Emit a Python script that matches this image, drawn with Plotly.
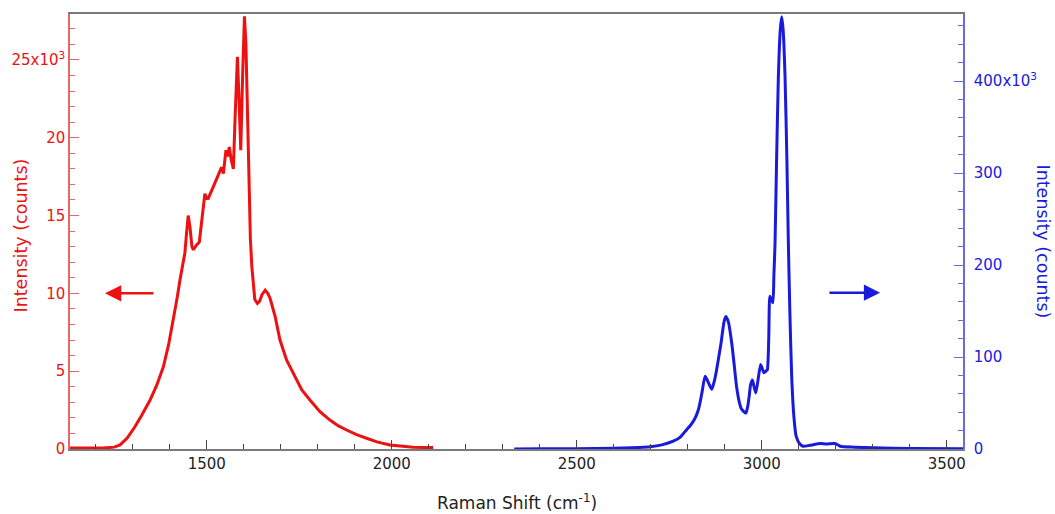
import plotly.graph_objects as go

# Red spectrum (left axis), Raman shift in cm-1 and intensity in counts
red_x = [1130, 1160, 1190, 1220, 1250, 1266, 1285, 1306, 1325, 1347, 1365, 1383, 1397, 1410,
         1420, 1428, 1441, 1446, 1450, 1455, 1460, 1464, 1472, 1480, 1487, 1495, 1500, 1504,
         1515, 1527, 1540, 1545, 1552, 1557, 1561, 1566, 1572, 1577, 1583, 1588, 1592, 1597,
         1602, 1606, 1610, 1614, 1618, 1622, 1630, 1637, 1643, 1649, 1658, 1665, 1671, 1685,
         1698, 1716, 1739, 1757, 1779, 1806, 1833, 1855, 1878, 1905, 1932, 1960, 1995, 2025,
         2058, 2085, 2112]
red_y = [60, 50, 70, 60, 120, 260, 700, 1430, 2200, 3150, 4100, 5300, 6700, 8300,
         9700, 10900, 12600, 14000, 15000, 14200, 13000, 12800, 13100, 13300, 14800, 16400, 16100, 16100,
         16700, 17400, 18100, 17700, 19200, 18800, 19400, 18600, 18000, 21500, 25200, 22000, 19200, 24000,
         27800, 26000, 21800, 15800, 13500, 11700, 9600, 9350, 9500, 9900, 10200, 10000, 9700, 8500,
         7000, 5700, 4650, 3800, 3150, 2400, 1860, 1500, 1220, 920, 690, 460, 260, 170,
         110, 100, 90]

# Blue spectrum (right axis)
blue_x = [2331, 2400, 2500, 2600, 2650, 2699, 2730, 2761, 2780, 2797, 2806, 2818, 2829, 2838,
          2847, 2856, 2865, 2872, 2878, 2890, 2898, 2903, 2910, 2919, 2926, 2932, 2940, 2946,
          2957, 2962, 2966, 2970, 2975, 2979, 2984, 2990, 2997, 3001, 3006, 3012, 3015, 3019,
          3022, 3026, 3030, 3033, 3036, 3040, 3045, 3050, 3054, 3058, 3063, 3068, 3072, 3076,
          3081, 3087, 3093, 3102, 3112, 3130, 3158, 3175, 3198, 3212, 3250, 3302, 3402, 3544]
blue_y = [0, 200, 400, 800, 1300, 2400, 4500, 8500, 13000, 21000, 25000, 32000, 43000, 60000,
          79000, 72000, 65000, 74000, 86000, 115000, 138000, 144000, 138000, 115000, 90000, 68000, 50000, 43000,
          39000, 46000, 57000, 70000, 75000, 68000, 61000, 75000, 92000, 88000, 83000, 85000, 86000, 120000,
          166000, 162000, 159000, 190000, 224000, 310000, 405000, 455000, 470000, 455000, 405000, 315000, 224000, 150000,
          79000, 35000, 14000, 6000, 3000, 4000, 6000, 5500, 6000, 3000, 2000, 1300, 500, 300]

x_ticks = [1500, 2000, 2500, 3000, 3500]
left_ticks = [0, 5000, 10000, 15000, 20000, 25000]
left_text = ["0", "5", "10", "15", "20", "25x10<sup>3</sup>"]
right_ticks = [0, 100000, 200000, 300000, 400000]
right_text = ["0", "100", "200", "300", "400x10<sup>3</sup>"]

RED = "#ee1111"
BLUE = "#1a1add"
FONT = "DejaVu Sans"

fig = go.Figure()
fig.add_trace(go.Scatter(x=red_x, y=red_y, mode="lines", line=dict(color=RED, width=3),
                         yaxis="y", showlegend=False))
fig.add_trace(go.Scatter(x=blue_x, y=blue_y, mode="lines", line=dict(color=BLUE, width=3, shape="spline", smoothing=0.6),
                         yaxis="y2", showlegend=False))

fig.update_layout(
    width=1055, height=514,
    margin=dict(l=70, r=92, t=14, b=65),
    plot_bgcolor="white", paper_bgcolor="white",
    font=dict(family=FONT, size=15, color="#222222"),
    xaxis=dict(range=[1130.5, 3544], tickvals=x_ticks, ticks="inside", ticklen=9, tickwidth=1,
               tickcolor="#444444", showline=True, linecolor="#7a7a7a", linewidth=2, mirror=True,
               showgrid=False, zeroline=False,
               minor=dict(dtick=100, tick0=0, ticks="inside", ticklen=5, tickcolor="#444444", showgrid=False),
               tickfont=dict(size=15, color="#222222")),
    yaxis=dict(range=[0, 27950], tickvals=left_ticks, ticktext=left_text, ticks="inside", ticklen=9,
               tickcolor="#e06a6a", showline=True, linecolor="#e06a6a", linewidth=1.5,
               showgrid=False, zeroline=False,
               minor=dict(dtick=1000, tick0=0, ticks="inside", ticklen=5, tickcolor="#e06a6a", showgrid=False),
               tickfont=dict(size=15, color=RED)),
    yaxis2=dict(range=[0, 473000], overlaying="y", side="right", tickvals=right_ticks, ticktext=right_text,
                ticks="inside", ticklen=9, tickcolor="#6a6ad8", showline=True, linecolor="#6a6ad8", linewidth=1.5,
                showgrid=False, zeroline=False, ticklabelstandoff=6,
                minor=dict(dtick=20000, tick0=0, ticks="inside", ticklen=5, tickcolor="#6a6ad8", showgrid=False),
                tickfont=dict(size=15, color=BLUE)),
    annotations=[
        dict(text="Intensity (counts)", xref="paper", yref="paper", x=0, y=0.5, xshift=-50, yshift=-4,
             textangle=-90, showarrow=False, font=dict(size=17.5, color=RED), xanchor="center", yanchor="middle"),
        dict(text="Intensity (counts)", xref="paper", yref="paper", x=1, y=0.5, xshift=80, yshift=-10,
             textangle=90, showarrow=False, font=dict(size=17.5, color=BLUE), xanchor="center", yanchor="middle"),
        dict(text="Raman Shift (cm<sup>-1</sup>)", xref="paper", yref="paper", x=0.5, y=0, yshift=-53,
             showarrow=False, font=dict(size=17, color="#222222"), xanchor="center", yanchor="middle"),
        dict(x=1225, y=10000, xref="x", yref="y", ax=1360, ay=10000, axref="x", ayref="y",
             showarrow=True, arrowhead=2, arrowsize=1.3, arrowwidth=2.5, arrowcolor=RED, text=""),
        dict(x=3320, y=170000, xref="x", yref="y2", ax=3179, ay=170000, axref="x", ayref="y2",
             showarrow=True, arrowhead=2, arrowsize=1.3, arrowwidth=2.5, arrowcolor=BLUE, text=""),
    ],
)

fig.write_html("out.html")
